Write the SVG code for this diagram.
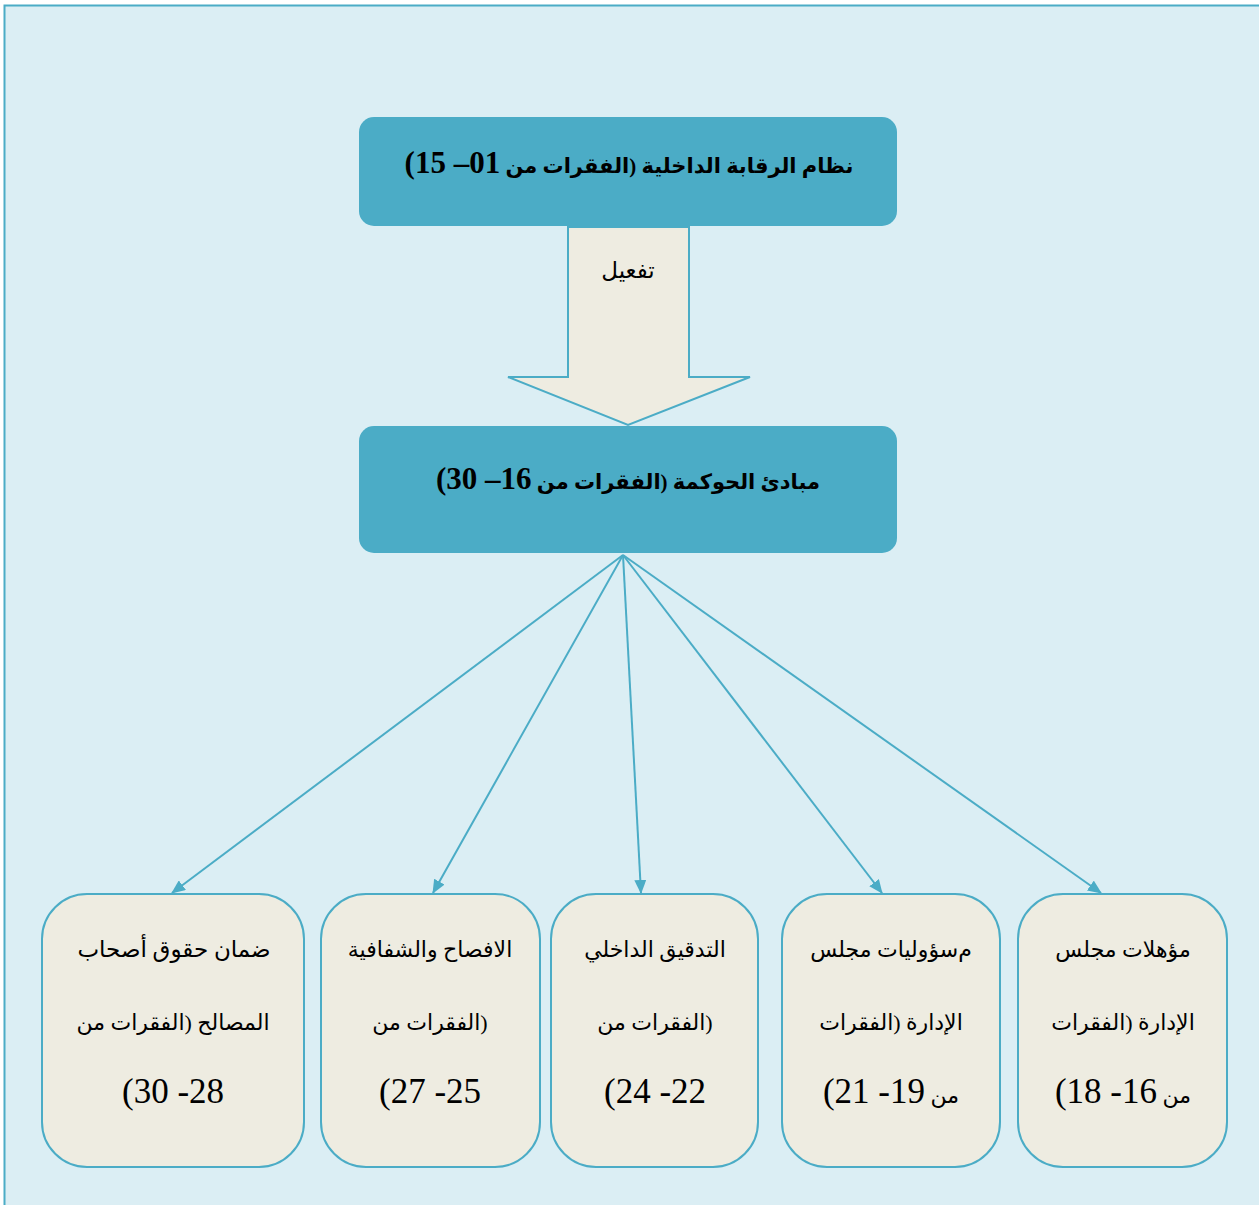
<svg xmlns="http://www.w3.org/2000/svg" width="1259" height="1205" viewBox="0 0 1259 1205">
<style>
.main{fill:#4bacc6;}
.sub{fill:#eeece1;stroke:#4bacc6;stroke-width:2;}
.t{font-family:"Liberation Serif","DejaVu Sans",serif;fill:#000;text-anchor:middle;direction:rtl;}
.tb{font-weight:bold;font-size:21px;}
.tn{font-size:23px;}
.tf{font-size:22px;}
.num{font-size:35px;}
.numb{font-size:31px;font-weight:bold;}
.conn{stroke:#4bacc6;stroke-width:2;fill:none;}
</style>
<defs>
<marker id="ah" markerUnits="userSpaceOnUse" markerWidth="14" markerHeight="12" viewBox="0 0 14 12" refX="13" refY="6" orient="auto">
<path d="M0,0 L14,6 L0,12 Z" fill="#4bacc6"/>
</marker>
</defs>
<rect x="0" y="0" width="1259" height="1205" fill="#ffffff"/>
<rect x="4.5" y="5.5" width="1262" height="1212" fill="#dbeef4" stroke="#4bacc6" stroke-width="2"/>

<g id="node-top">
<rect class="main" x="359" y="117" width="538" height="109" rx="15"/>
<text class="t tb" x="629" y="173">نظام الرقابة الداخلية (الفقرات من <tspan class="numb">01– 15)</tspan></text>
</g>

<g id="node-arrow">
<path d="M568,227 L689,227 L689,377 L750,377 L628,425 L508,377 L568,377 Z" fill="#eeece1" stroke="#4bacc6" stroke-width="2"/>
<text class="t tn" x="628" y="278">تفعيل</text>
</g>

<g id="node-mid">
<rect class="main" x="359" y="426" width="538" height="127" rx="15"/>
<text class="t tb" x="628" y="489">مبادئ الحوكمة (الفقرات من <tspan class="numb">16– 30)</tspan></text>
</g>

<g id="connectors">
<line class="conn" x1="623" y1="555" x2="172" y2="893" marker-end="url(#ah)"/>
<line class="conn" x1="623" y1="555" x2="433" y2="893" marker-end="url(#ah)"/>
<line class="conn" x1="623" y1="555" x2="641" y2="893" marker-end="url(#ah)"/>
<line class="conn" x1="623" y1="555" x2="882" y2="893" marker-end="url(#ah)"/>
<line class="conn" x1="623" y1="555" x2="1101" y2="893" marker-end="url(#ah)"/>
</g>

<g id="node-a">
<rect class="sub" x="42" y="894" width="262" height="273" rx="45"/>
<text class="t tn" x="174" y="957">ضمان حقوق أصحاب</text>
<text class="t tf" x="173" y="1030">المصالح (الفقرات من</text>
<text class="t num" x="173" y="1103">28- 30)</text>
</g>

<g id="node-b">
<rect class="sub" x="321" y="894" width="219" height="273" rx="45"/>
<text class="t tf" x="430" y="957">الافصاح والشفافية</text>
<text class="t tf" x="430" y="1030">(الفقرات من</text>
<text class="t num" x="430" y="1103">25- 27)</text>
</g>

<g id="node-c">
<rect class="sub" x="551" y="894" width="207" height="273" rx="45"/>
<text class="t tf" x="655" y="957">التدقيق الداخلي</text>
<text class="t tf" x="655" y="1030">(الفقرات من</text>
<text class="t num" x="655" y="1103">22- 24)</text>
</g>

<g id="node-d">
<rect class="sub" x="782" y="894" width="218" height="273" rx="45"/>
<text class="t tf" x="891" y="957">م&#x200C;سؤوليات مجلس</text>
<text class="t tf" x="891" y="1030">الإدارة (الفقرات</text>
<text class="t tf" x="891" y="1103">من <tspan class="num">19- 21)</tspan></text>
</g>

<g id="node-e">
<rect class="sub" x="1018" y="894" width="209" height="273" rx="45"/>
<text class="t tf" x="1123" y="957">مؤهلات مجلس</text>
<text class="t tf" x="1123" y="1030">الإدارة (الفقرات</text>
<text class="t tf" x="1123" y="1103">من <tspan class="num">16- 18)</tspan></text>
</g>
</svg>
